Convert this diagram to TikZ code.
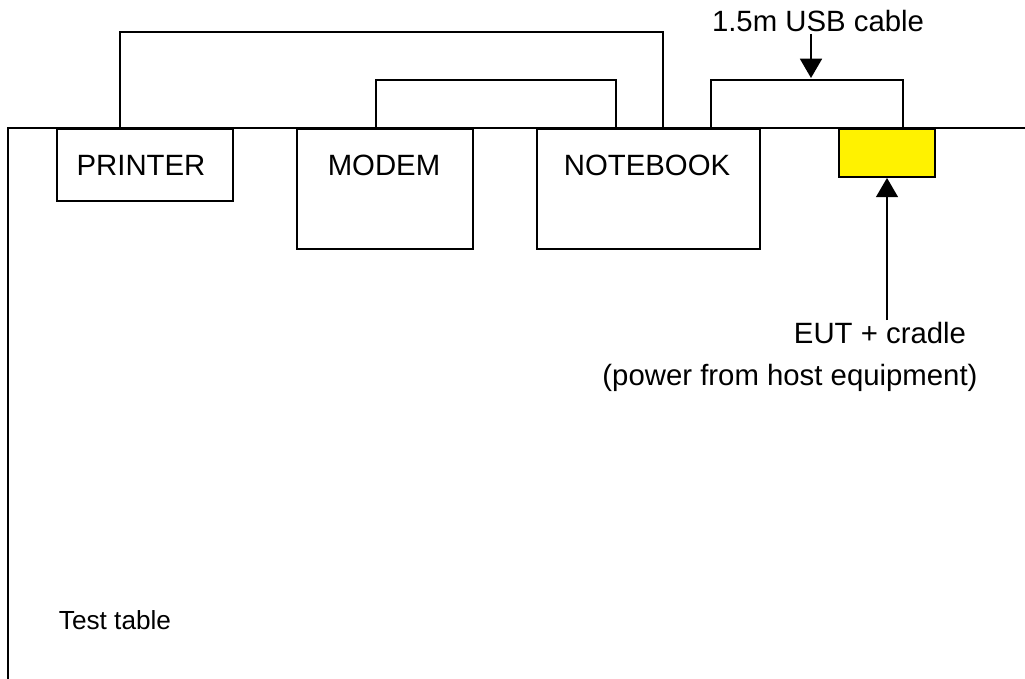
\documentclass[tikz,border=0pt]{standalone}
\usepackage{fontspec}
\setmainfont{Liberation Sans}
\usetikzlibrary{arrows.meta,calc}
\begin{document}
\begin{tikzpicture}[x=0.02cm,y=-0.02cm,
  line width=1.1pt,
  box/.style={draw,rectangle,inner sep=0pt,anchor=north west},
  lbl/.style={inner sep=0pt,anchor=base,font=\fontsize{16.7}{20}\selectfont},
  arr/.style={-{Triangle[width=12.5pt,length=11pt]}}]
\useasboundingbox (0,0) rectangle (1025,679);
% test table
\coordinate (tl) at (8,128);
\coordinate (tr) at (1025,128);
\coordinate (bl) at (8,679);
\draw (tr) -- (tl) -- (bl);
\node[inner sep=0pt,anchor=base west,font=\fontsize{14.9}{18}\selectfont] (table) at (58,629) {Test table};
% equipment
\node[box,minimum width=3.52cm,minimum height=1.44cm] (printer) at (56,128) {};
\node[box,minimum width=3.52cm,minimum height=2.4cm] (modem) at (296,128) {};
\node[box,minimum width=4.46cm,minimum height=2.4cm] (notebook) at (536,128) {};
\node[box,fill=yellow,minimum width=1.92cm,minimum height=0.96cm] (eut) at (838,128) {};
\node[lbl] (printerlbl) at (141,175) {PRINTER};
\node[lbl] (modemlbl) at (384,175) {MODEM};
\node[lbl] (notebooklbl) at (647,175) {NOTEBOOK};
% cables
\draw ($(printer.north west)+(64,0)$) -- ++(0,-96) -| ($(notebook.north west)+(127,0)$);
\draw ($(modem.north west)+(80,0)$) -- ++(0,-48) -| ($(notebook.north west)+(80,0)$);
\draw ($(notebook.north west)+(175,0)$) -- ++(0,-48) -| ($(eut.north west)+(65,0)$);
% labels and arrows
\node[lbl] (usb) at (818,32) {1.5m USB cable};
\coordinate (usbstart) at (811,34);
\coordinate (usbtip) at (811,78);
\draw[arr] (usbstart) -- (usbtip);
\node[lbl] (eutlbl) at (880,343) {EUT + cradle};
\node[lbl] (powerlbl) at (790,385) {(power from host equipment)};
\coordinate (eutstart) at (887,320);
\draw[arr] (eutstart) -- ($(eut.south west)+(49,0)$);
\end{tikzpicture}
\end{document}
